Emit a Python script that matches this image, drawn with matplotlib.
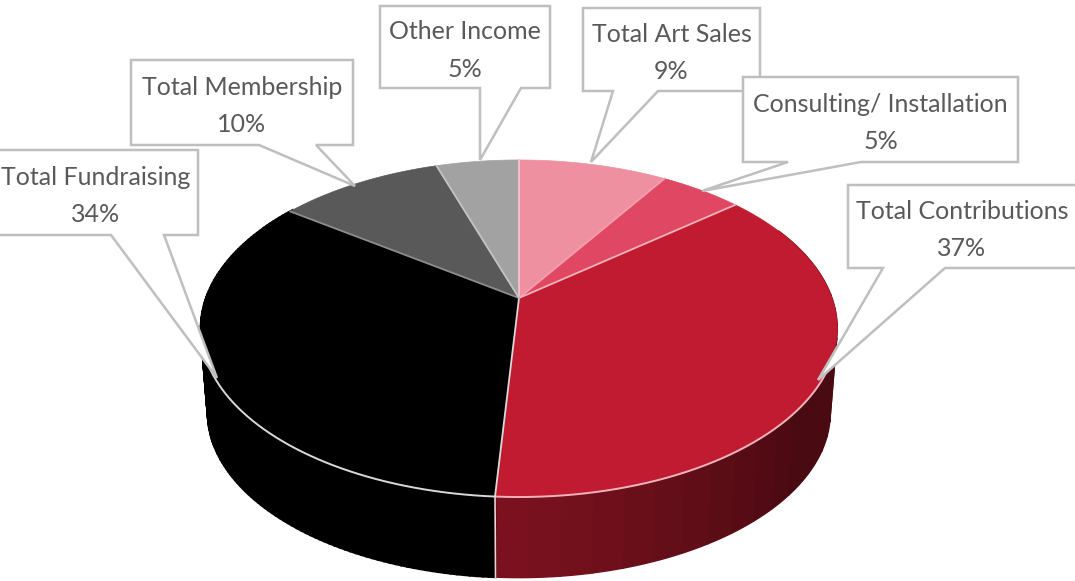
import numpy as np
import matplotlib
matplotlib.use('Agg')
import matplotlib.pyplot as plt
from matplotlib.patches import Polygon

names = ['Total Art Sales', 'Consulting/ Installation', 'Total Contributions',
         'Total Fundraising', 'Total Membership', 'Other Income']
shares = [9, 5, 37, 34, 10, 5]
top_colors = ['#ee909f', '#df4763', '#c01b30', '#000000', '#595959', '#a2a2a2']
edge_colors = ['#f7c3cb', '#f3a0ae', '#f2b3bb', '#d9d9d9', '#8c8c8c', '#c4c4c4']

# callout boxes in pixels: left, right, top, bottom, pointer base x0, x1, tip x, tip y
boxes = {
    'Total Art Sales': (583, 760, 8, 91, 613, 658, 591, 162),
    'Consulting/ Installation': (743, 1018, 77, 162, 788, 861, 702, 191),
    'Total Contributions': (848, 1090, 185, 268, 883, 945, 818, 380),
    'Total Fundraising': (-4, 198, 150, 235, 111, 164, 217, 378),
    'Total Membership': (131, 353, 60, 145, 259, 316, 355, 186),
    'Other Income': (380, 550, 6, 88, 480, 521, 480, 160),
}
text_x = {'Total Contributions': 962, 'Total Fundraising': 96}

cx, cy = 519, 298        # apex of the top face
rx, ry, k = 313, 163, 0.181   # perspective ellipse
wall_dy, wall_s = 85, 0.978


def rim(deg, scale=1.0, dy=0):
    a = np.radians(deg)
    u, v = np.sin(a), np.cos(a)
    d = 1 + k * v
    return np.column_stack([cx + scale * rx * u / d, cy + dy - scale * ry * v / d])


fig = plt.figure(figsize=(10.75, 5.81), dpi=100)
ax = fig.add_axes([0, 0, 1, 1])
ax.set_xlim(0, 1075)
ax.set_ylim(581, 0)
ax.axis('off')

edges = np.cumsum([0] + shares) * 3.6

# side wall: only the two front slices show, contributions gets banded shading
wall_a = np.array([0x4a, 0x0a, 0x12]) / 255
wall_b = np.array([0x80, 0x12, 0x20]) / 255
for deg in np.arange(edges[3] - 5.0, 60, -5.0):
    t = np.clip((deg - 125) / (edges[3] - 125), 0, 1)
    c = wall_a + (wall_b - wall_a) * t
    d = np.linspace(deg, deg + 5.0, 6)
    quad = np.vstack([rim(d), rim(d[::-1], wall_s, wall_dy)])
    ax.add_patch(Polygon(quad, fc=c, ec=c, lw=1.0, zorder=1))
for deg in np.arange(edges[3], edges[4], 1.0):
    d = np.array([deg, deg + 1.0])
    quad = np.vstack([rim(d), rim(d[::-1], wall_s, wall_dy)])
    ax.add_patch(Polygon(quad, fc='black', ec='black', lw=1.5, zorder=1))
seam = np.vstack([rim(edges[3:4]), rim(edges[3:4], wall_s, wall_dy)])
ax.plot(seam[:, 0], seam[:, 1], color='#f0d0d4', lw=1.2, zorder=2)

# top face
for i, name in enumerate(names):
    arc = rim(np.linspace(edges[i], edges[i + 1], 80))
    ax.add_patch(Polygon(np.vstack([[cx, cy], arc]), fc=top_colors[i], ec=top_colors[i],
                         lw=0.5, zorder=3))
for i, name in enumerate(names):
    deg = np.linspace(edges[i], edges[i + 1], 80)
    arc = rim(deg)
    end = rim(edges[i:i + 1])[0]
    ax.plot([cx, end[0]], [cy, end[1]], color=edge_colors[i], lw=1.3, zorder=4)
    if name in ('Total Contributions', 'Total Fundraising'):
        front = arc[(deg > 112) & (deg < 250)]
        ax.plot(front[:, 0], front[:, 1], color=edge_colors[i], lw=1.4, zorder=4)

# callouts
plt.rcParams['font.family'] = ['Lato', 'DejaVu Sans']
for i in [4, 3, 5, 0, 1, 2]:
    name = names[i]
    l, r, t, b, p0, p1, tx, ty = boxes[name]
    pts = [(l, t), (r, t), (r, b), (p1, b), (tx, ty), (p0, b), (l, b)]
    ax.add_patch(Polygon(pts, fc='white', ec='#bfbfbf', lw=1.8, joinstyle='miter', zorder=5))
    x = text_x.get(name, (l + r) / 2)
    ax.text(x, (t + b) / 2 + 3.5, f'{name}\n{shares[i]}%', ha='center', va='center',
            fontsize=18, color='#595959', linespacing=1.75, zorder=6)

fig.savefig('out.png', dpi=100)
